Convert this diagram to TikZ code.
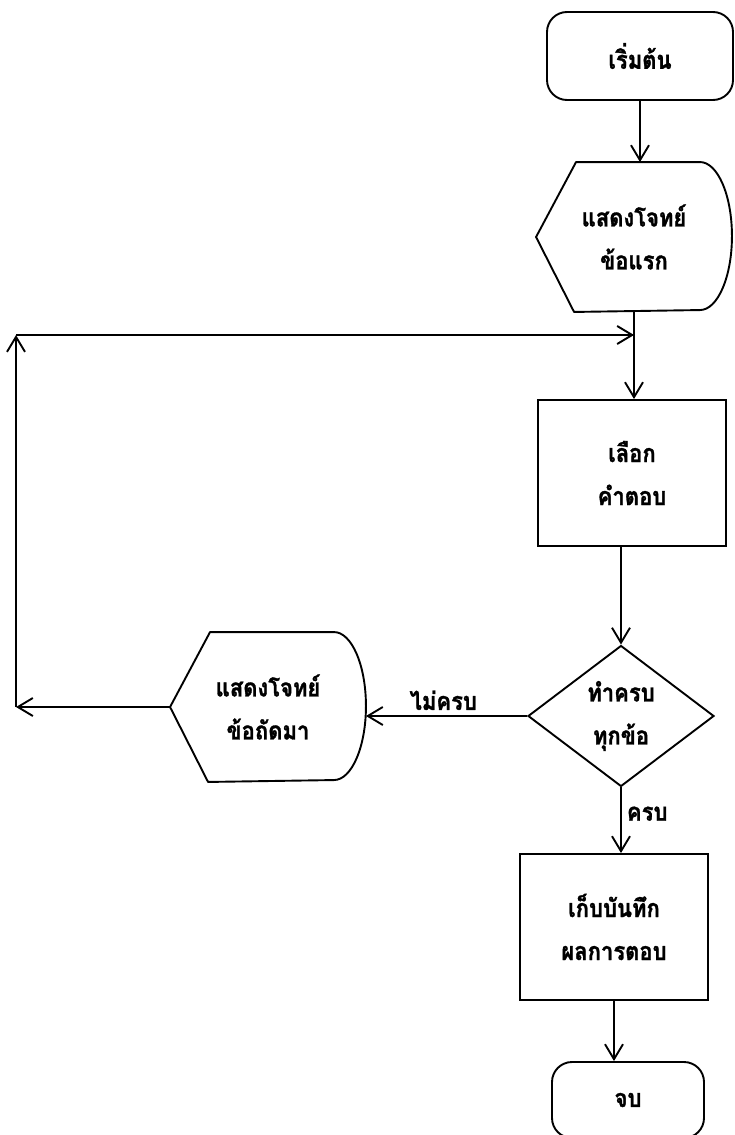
\documentclass[tikz,border=0pt]{standalone}
\usepackage{fontspec}
\newfontfamily\thaifont[Script=Thai, FakeStretch=0.88, FakeBold=1.2]{Loma}
\usetikzlibrary{shapes.geometric,arrows.meta}

% outline of a "display" symbol drawn round a plain rectangular node
\newcommand\displayoutline[1]{%
  \draw[line join=round] ([xshift=40pt]#1.north west) -- ([xshift=-32pt]#1.north east)
    arc[start angle=90, end angle=-90, x radius=32pt, y radius=74pt]
    -- ([xshift=38pt]#1.south west) -- (#1.west) -- cycle;}

\begin{document}
\begin{tikzpicture}[x=1pt, y=-1pt, line width=1.9pt,
  every node/.style={font=\thaifont\bfseries\fontsize{25}{43}\selectfont, align=center},
  terminal/.style={draw, rectangle, rounded corners=20pt, minimum width=186pt, minimum height=88pt},
  stepbox/.style={draw, rectangle, minimum width=188pt, minimum height=146pt},
  decision/.style={draw, diamond, minimum width=186pt, minimum height=141pt, inner sep=0pt},
  dispbox/.style={rectangle, minimum width=194pt, minimum height=148pt, inner sep=0pt},
  arr/.style={-{Straight Barb[length=15pt, width=18pt]}},
  lbl/.style={inner sep=5pt}]

\fill[white] (0,0) rectangle (735,1135);
\useasboundingbox (0,0) rectangle (735,1135);

% flowchart blocks
\node[terminal] (start) at (640,56) {เริ่มต้น};
\node[dispbox] (d1) at (634,237) {แสดงโจทย์\\ข้อแรก};
\displayoutline{d1}
\node[stepbox] (p1) at (632,473) {เลือก\\คำตอบ};
\node[decision] (dia) at (621,716) {ทำครบ\\ทุกข้อ};
\node[dispbox] (d2) at (268,707) {แสดงโจทย์\\ข้อถัดมา};
\displayoutline{d2}
\node[stepbox] (p2) at (614,927) {เก็บบันทึก\\ผลการตอบ};
\node[terminal, minimum width=152pt, minimum height=76pt] (end) at (628,1100) {จบ};

% loop-back route
\coordinate (lb) at (16,707);
\coordinate (lt) at (16,335);
\coordinate (lr) at (d1.south |- lt);

% connectors
\draw[arr] (start.south) -- (start.south |- d1.north);
\draw[arr] (d1.south) -- (d1.south |- p1.north);
\draw[arr] (p1.south -| dia.north) -- (dia.north);
\draw[arr] (dia.south) -- node[lbl, right, pos=0.4] {ครบ} (dia.south |- p2.north);
\draw[arr] (dia.west) -- node[lbl, above, pos=0.52] {ไม่ครบ} (dia.west -| d2.east);
\draw[arr] (p2.south) -- (p2.south |- end.north);
\draw[arr] (d2.west) -- (lb);
\draw[arr] (lb) -- (lt);
\draw[arr] (lt) -- (lr);
\end{tikzpicture}
\end{document}
